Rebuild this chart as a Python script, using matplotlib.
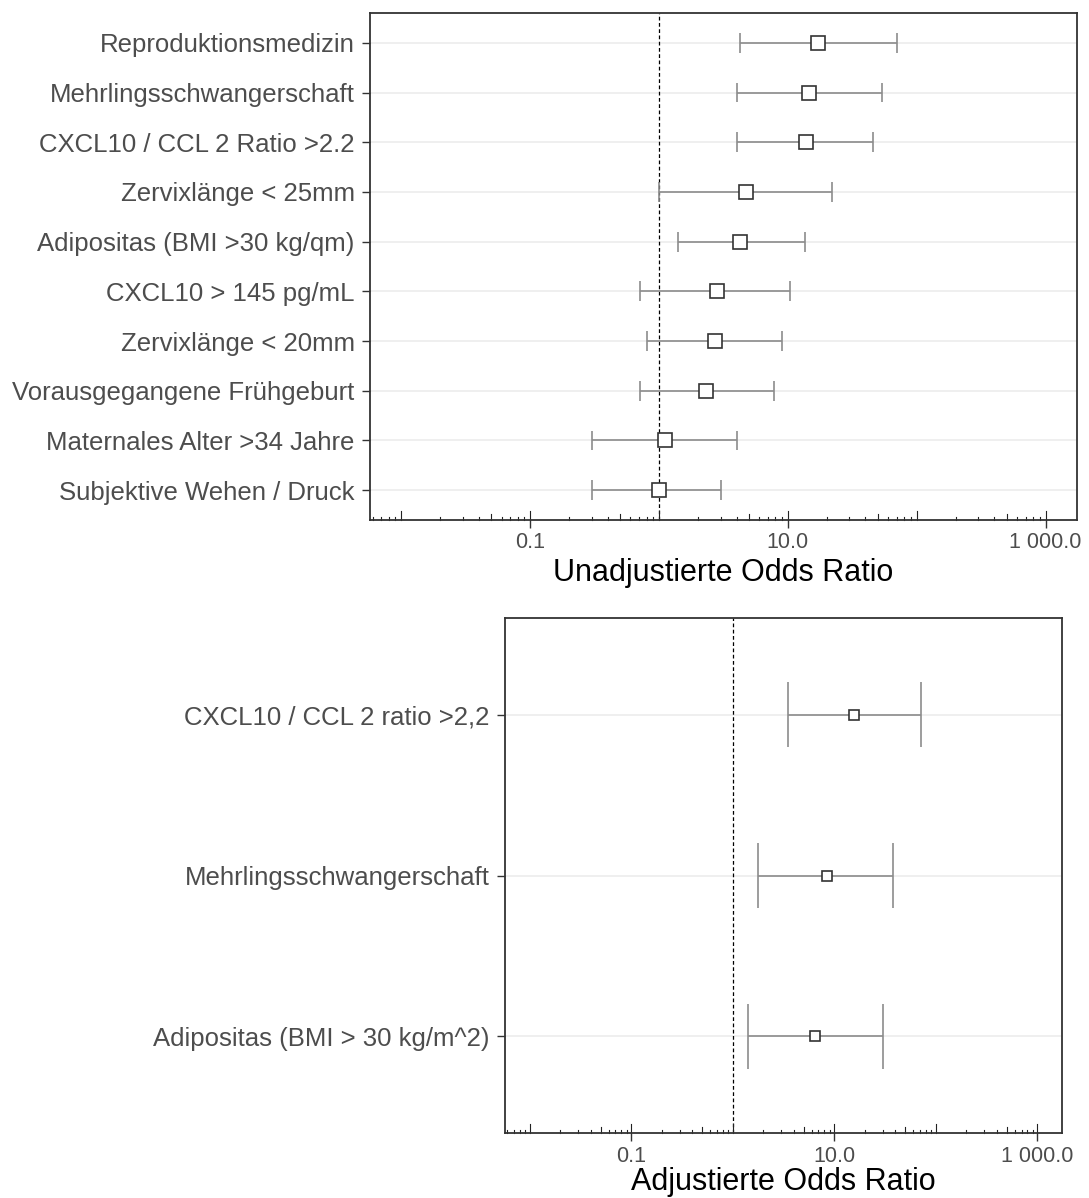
import numpy as np
import matplotlib
matplotlib.use("Agg")
import matplotlib.pyplot as plt
from matplotlib.ticker import FixedLocator, NullLocator

plt.rcParams['font.family'] = ['Liberation Sans', 'DejaVu Sans']

# unadjusted odds ratios, listed top to bottom
labels_unadj = ["Reproduktionsmedizin", "Mehrlingsschwangerschaft",
                "CXCL10 / CCL 2 Ratio >2.2", "Zervixlänge < 25mm",
                "Adipositas (BMI >30 kg/qm)", "CXCL10 > 145 pg/mL",
                "Zervixlänge < 20mm", "Vorausgegangene Frühgeburt",
                "Maternales Alter >34 Jahre", "Subjektive Wehen / Druck"]
or_unadj = [17.2, 14.6, 13.8, 4.7, 4.25, 2.81, 2.70, 2.33, 1.12, 1.0]
lo_unadj = [4.28, 4.03, 4.03, 1.0, 1.40, 0.71, 0.81, 0.71, 0.304, 0.304]
hi_unadj = [70.6, 53.4, 46.0, 21.9, 13.5, 10.3, 9.08, 7.77, 4.03, 3.05]

# adjusted odds ratios
labels_adj = ["CXCL10 / CCL 2 ratio >2,2", "Mehrlingsschwangerschaft",
              "Adipositas (BMI > 30 kg/m^2)"]
or_adj = [15.7, 8.44, 6.53]
lo_adj = [3.51, 1.79, 1.40]
hi_adj = [71.6, 37.9, 30.3]

xticks = [0.1, 10, 1000]
xticklabels = ["0.1", "10.0", "1 000.0"]
xlim = (0.00571, 1754)

W, H = 1089, 1198
fig = plt.figure(figsize=(W / 100, H / 100), dpi=100)


def forest(rect, labels, est, lo, hi, xlabel, msize, labelpad):
    ax = fig.add_axes(rect)
    n = len(labels)
    y = np.arange(n, 0, -1)
    est, lo, hi = map(np.asarray, (est, lo, hi))

    ax.set_xscale('log')
    ax.set_xlim(*xlim)
    ax.set_ylim(0.4, n + 0.6)

    ax.axvline(1, color='black', lw=0.9, ls=(0, (3, 2)), zorder=1)
    ax.hlines(y, lo, hi, color='#8c8c8c', lw=1.2, zorder=2)
    ax.vlines(lo, y - 0.2, y + 0.2, color='#8c8c8c', lw=1.2, zorder=2)
    ax.vlines(hi, y - 0.2, y + 0.2, color='#8c8c8c', lw=1.2, zorder=2)
    ax.plot(est, y, ls='none', marker='s', ms=msize, mfc='white',
            mec='#333333', mew=1.2, zorder=3)

    # log ticks inside the bottom edge (long at decades, mid at 5)
    trans = ax.get_xaxis_transform()
    axh = rect[3] * H
    for e in range(-3, 4):
        for k in range(1, 10):
            v = k * 10.0 ** e
            if not (xlim[0] <= v <= xlim[1]):
                continue
            px = 9 if k == 1 else (6 if k == 5 else 3)
            ax.plot([v, v], [0, px / axh], transform=trans, color='#222222',
                    lw=0.8, clip_on=False, zorder=2)

    ax.xaxis.set_major_locator(FixedLocator(xticks))
    ax.set_xticklabels(xticklabels)
    ax.xaxis.set_minor_locator(NullLocator())
    ax.set_yticks(y)
    ax.set_yticklabels(labels)
    ax.yaxis.grid(True, color='#ebebeb', lw=1.1)
    ax.set_axisbelow(True)

    ax.tick_params(axis='both', which='major', length=6, width=1.0,
                   color='#333333', labelcolor='#4d4d4d')
    ax.tick_params(axis='y', labelsize=18.5, pad=5)
    ax.tick_params(axis='x', labelsize=15.5, pad=3)
    for s in ax.spines.values():
        s.set_color('#333333')
        s.set_linewidth(1.3)
    ax.set_xlabel(xlabel, fontsize=22, color='black', labelpad=labelpad)
    return ax


forest([370 / W, 1 - 520 / H, 707 / W, 507 / H], labels_unadj, or_unadj,
       lo_unadj, hi_unadj, "Unadjustierte Odds Ratio", 10, 3)
forest([505 / W, 1 - 1133 / H, 557 / W, 515 / H], labels_adj, or_adj,
       lo_adj, hi_adj, "Adjustierte Odds Ratio", 7.5, 0.5)

fig.savefig('out.png', dpi=100)
